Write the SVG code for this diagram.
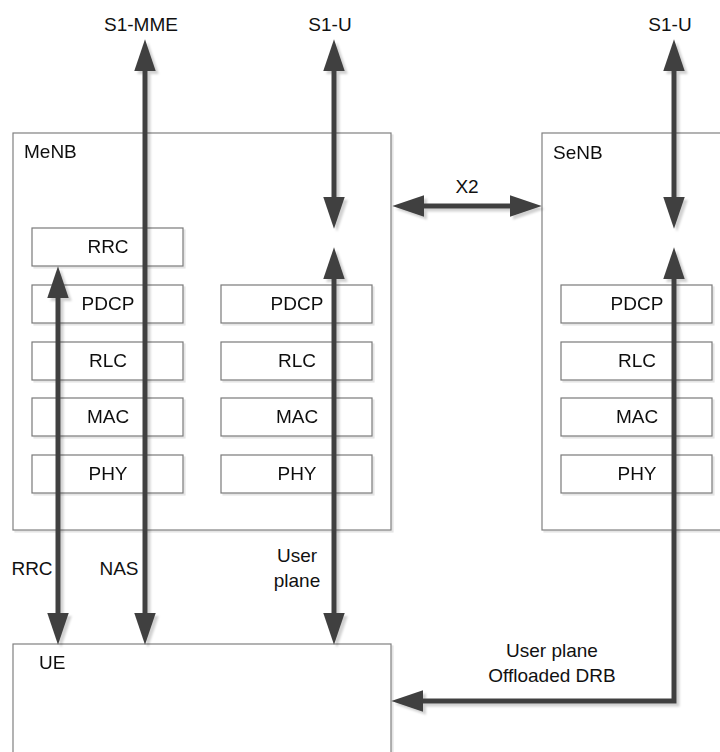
<svg xmlns="http://www.w3.org/2000/svg" width="720" height="752" viewBox="0 0 720 752">
<style>
text{font-family:"Liberation Sans",Arial,sans-serif;font-size:19px;fill:#111}
.c{text-anchor:middle}
.box{fill:#fff;stroke:#808080;stroke-width:1.2}
.lay{fill:#fff;stroke:#7a7a7a;stroke-width:1.2}
.arr{fill:none;stroke:#404040;stroke-width:5;marker-start:url(#ah);marker-end:url(#ah)}
</style>
<defs>
<marker id="ah" markerUnits="userSpaceOnUse" markerWidth="32" markerHeight="22" viewBox="0 0 31 21" refX="10" refY="10.5" orient="auto-start-reverse">
<path d="M0,0 L31,10.5 L0,21 z" fill="#404040"/>
</marker>
<filter id="sh" x="-10%" y="-10%" width="130%" height="130%">
<feDropShadow dx="3" dy="3" stdDeviation="0.8" flood-color="#000" flood-opacity="0.18"/>
</filter>
<filter id="bsh" x="-5%" y="-5%" width="115%" height="115%">
<feDropShadow dx="2" dy="2" stdDeviation="0.6" flood-color="#000" flood-opacity="0.1"/>
</filter>
</defs>

<g id="MeNB" filter="url(#bsh)">
<rect class="box" x="13" y="133" width="378" height="397"/>
<text x="24" y="158">MeNB</text>
</g>
<g id="SeNB" filter="url(#bsh)">
<rect class="box" x="542" y="133" width="200" height="397"/>
<text x="553" y="159">SeNB</text>
</g>
<g id="UE" filter="url(#bsh)">
<rect class="box" x="13" y="644" width="378" height="130"/>
<text x="39" y="669">UE</text>
</g>

<g id="MeNB-RRC" filter="url(#bsh)"><rect class="lay" x="32" y="228" width="151" height="38"/><text class="c" x="108" y="253">RRC</text></g>
<g id="MeNB-PDCP-1" filter="url(#bsh)"><rect class="lay" x="32" y="285" width="151" height="38"/><text class="c" x="108" y="310">PDCP</text></g>
<g id="MeNB-RLC-1" filter="url(#bsh)"><rect class="lay" x="32" y="342" width="151" height="38"/><text class="c" x="108" y="367">RLC</text></g>
<g id="MeNB-MAC-1" filter="url(#bsh)"><rect class="lay" x="32" y="398" width="151" height="38"/><text class="c" x="108" y="423">MAC</text></g>
<g id="MeNB-PHY-1" filter="url(#bsh)"><rect class="lay" x="32" y="455" width="151" height="38"/><text class="c" x="108" y="480">PHY</text></g>

<g id="MeNB-PDCP-2" filter="url(#bsh)"><rect class="lay" x="221" y="285" width="151" height="38"/><text class="c" x="297" y="310">PDCP</text></g>
<g id="MeNB-RLC-2" filter="url(#bsh)"><rect class="lay" x="221" y="342" width="151" height="38"/><text class="c" x="297" y="367">RLC</text></g>
<g id="MeNB-MAC-2" filter="url(#bsh)"><rect class="lay" x="221" y="398" width="151" height="38"/><text class="c" x="297" y="423">MAC</text></g>
<g id="MeNB-PHY-2" filter="url(#bsh)"><rect class="lay" x="221" y="455" width="151" height="38"/><text class="c" x="297" y="480">PHY</text></g>

<g id="SeNB-PDCP" filter="url(#bsh)"><rect class="lay" x="561" y="285" width="151" height="38"/><text class="c" x="637" y="310">PDCP</text></g>
<g id="SeNB-RLC" filter="url(#bsh)"><rect class="lay" x="561" y="342" width="151" height="38"/><text class="c" x="637" y="367">RLC</text></g>
<g id="SeNB-MAC" filter="url(#bsh)"><rect class="lay" x="561" y="398" width="151" height="38"/><text class="c" x="637" y="423">MAC</text></g>
<g id="SeNB-PHY" filter="url(#bsh)"><rect class="lay" x="561" y="455" width="151" height="38"/><text class="c" x="637" y="480">PHY</text></g>

<g id="connectors" filter="url(#sh)">
<path class="arr" d="M145,61 L145,623"/>
<path class="arr" d="M334,61 L334,207"/>
<path class="arr" d="M334,269 L334,623"/>
<path class="arr" d="M58,288 L58,623"/>
<path class="arr" d="M414,206 L520,206"/>
<path class="arr" d="M674,61 L674,207"/>
<path class="arr" d="M674,269 L674,701 L413,701"/>
</g>

<g id="labels">
<text class="c" x="141" y="31">S1-MME</text>
<text class="c" x="330" y="31">S1-U</text>
<text class="c" x="670" y="31">S1-U</text>
<text class="c" x="467" y="193">X2</text>
<text class="c" x="32" y="575">RRC</text>
<text class="c" x="119" y="575">NAS</text>
<text class="c" x="297" y="562">User</text>
<text class="c" x="297" y="587">plane</text>
<text class="c" x="552" y="657">User plane</text>
<text class="c" x="552" y="682">Offloaded DRB</text>
</g>
</svg>
